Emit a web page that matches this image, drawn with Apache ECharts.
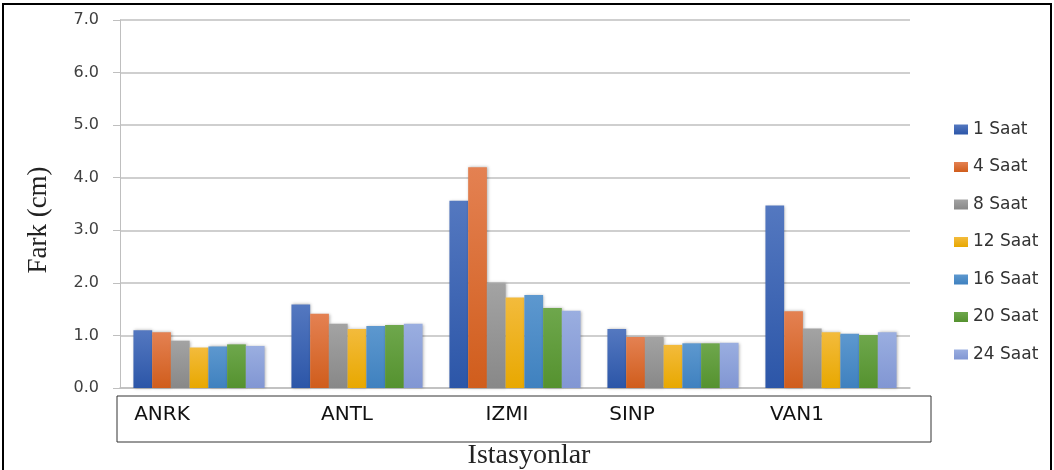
<!DOCTYPE html>
<html>
<head>
<meta charset="utf-8">
<script src="https://cdn.jsdelivr.net/npm/echarts@6/dist/echarts.min.js"></script>
<style>
  html, body { margin: 0; padding: 0; background: #fff; }
  #main { width: 1054px; height: 470px; }
</style>
</head>
<body>
<div id="main"></div>
<script>
var stations = ['ANRK', 'ANTL', 'IZMI', 'SINP', 'VAN1'];
var seriesNames = ['1 Saat', '4 Saat', '8 Saat', '12 Saat', '16 Saat', '20 Saat', '24 Saat'];
var yTicks = [0, 1, 2, 3, 4, 5, 6, 7];

// values per series, in station order
var saat1 = [1.10, 1.59, 3.56, 1.12, 3.47];
var saat4 = [1.06, 1.41, 4.20, 0.97, 1.46];
var saat8 = [0.90, 1.22, 1.99, 0.97, 1.13];
var saat12 = [0.77, 1.12, 1.72, 0.82, 1.06];
var saat16 = [0.79, 1.18, 1.77, 0.85, 1.03];
var saat20 = [0.83, 1.20, 1.52, 0.85, 1.01];
var saat24 = [0.80, 1.22, 1.47, 0.86, 1.06];
var allValues = [saat1, saat4, saat8, saat12, saat16, saat20, saat24];

// colours: top / bottom of gradient
var colors = [
    ['#5478c0', '#2c56a8'],
    ['#e48152', '#d05d1c'],
    ['#a3a3a3', '#888888'],
    ['#f3bb3c', '#e8a800'],
    ['#5d98cf', '#3f81bf'],
    ['#6ea74c', '#55922f'],
    ['#9aaee0', '#8196d3']
];
// small horizontal shifts of the station labels inside the box
var labelShift = [37, 10, 8, 41, 34];

var chartDom = document.getElementById('main');
var myChart = echarts.init(chartDom);
var option;

option = {
    animation: false,
    grid: {
        left: 120,
        right: 144,
        top: 20,
        bottom: 82,
        outerBoundsMode: 'none'
    },
    legend: {
        orient: 'vertical',
        left: 949,
        top: 116,
        itemGap: 20.5,
        itemWidth: 14,
        itemHeight: 10,
        icon: 'rect',
        data: seriesNames,
        textStyle: {
            color: '#333',
            fontSize: 17,
            fontFamily: 'DejaVu Sans'
        }
    },
    xAxis: {
        type: 'category',
        data: stations.map(function(s, i) {
            return {
                value: s,
                textStyle: { padding: [0, labelShift[i] * 2, 0, 0] }
            };
        }),
        name: 'Istasyonlar',
        nameLocation: 'middle',
        nameGap: 54,
        nameTextStyle: {
            color: '#222',
            fontSize: 28,
            fontFamily: 'Liberation Serif',
            padding: [0, 0, 0, 28]
        },
        axisLine: {
            lineStyle: { color: '#bfbfbf', width: 1.5 }
        },
        axisTick: { show: false },
        axisLabel: {
            margin: 17,
            color: '#111',
            fontSize: 20,
            fontFamily: 'DejaVu Sans'
        }
    },
    yAxis: {
        type: 'value',
        min: 0,
        max: 7,
        interval: 1,
        name: 'Fark (cm)',
        nameLocation: 'middle',
        nameGap: 68,
        nameTextStyle: {
            color: '#222',
            fontSize: 27,
            fontFamily: 'Liberation Serif',
            padding: [0, 32, 0, 0]
        },
        axisLine: {
            show: true,
            lineStyle: { color: '#bfbfbf', width: 1 }
        },
        axisTick: {
            show: true,
            length: 7,
            lineStyle: { color: '#bfbfbf' }
        },
        axisLabel: {
            margin: 21,
            color: '#404040',
            fontSize: 16,
            fontFamily: 'DejaVu Sans',
            formatter: function(v) {
                return yTicks.indexOf(v) >= 0 ? v.toFixed(1) : '';
            }
        },
        splitLine: {
            lineStyle: { color: '#bfbfbf', width: 1.5 }
        }
    },
    series: seriesNames.map(function(name, i) {
        return {
            name: name,
            type: 'bar',
            data: allValues[i],
            barGap: '0%',
            barCategoryGap: '17%',
            itemStyle: {
                color: new echarts.graphic.LinearGradient(0, 0, 0, 1, [
                    { offset: 0, color: colors[i][0] },
                    { offset: 1, color: colors[i][1] }
                ]),
                shadowBlur: 3,
                shadowOffsetX: 1,
                shadowColor: 'rgba(0,0,0,0.3)'
            }
        };
    }),
    graphic: [
        {
            type: 'rect',
            shape: { x: 3, y: 4, width: 1048, height: 470 },
            style: { fill: 'none', stroke: '#000', lineWidth: 2 },
            silent: true
        },
        {
            type: 'rect',
            shape: { x: 117, y: 396, width: 814, height: 46 },
            style: { fill: 'none', stroke: '#333', lineWidth: 1 },
            silent: true
        }
    ]
};

option && myChart.setOption(option);

window.addEventListener('resize', myChart.resize);
</script>
</body>
</html>
